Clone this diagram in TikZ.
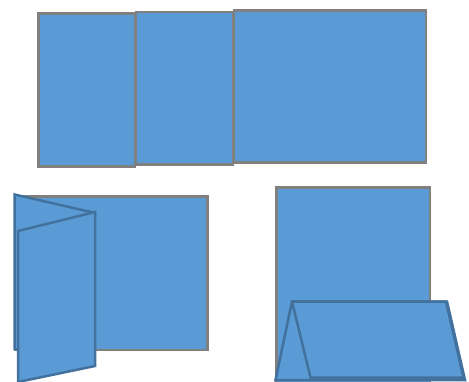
\documentclass[tikz,border=0pt]{standalone}
\begin{document}
\begin{tikzpicture}[x=1pt,y=-1pt,
  sheet/.style={fill=sheetblue,draw=sheetgray,line width=2.5pt},
  fold/.style={fill=sheetblue,draw=folddark,line width=2.5pt,line join=miter}]
\definecolor{sheetblue}{HTML}{5B9BD5}
\definecolor{sheetgray}{HTML}{808080}
\definecolor{folddark}{HTML}{41719C}
\useasboundingbox (0,0) rectangle (469,381);
% top row: three panels
\draw[sheet] (38.5,13.5) rectangle (135,166.5);
\draw[sheet] (136,12) rectangle (233,164.5);
\draw[sheet] (234,10.5) rectangle (426,162.5);
% bottom left: gate fold
\draw[sheet] (15,196.5) rectangle (207.5,350);
\draw[fold] (14.5,194.5) -- (93,212.5) -- (93,365) -- (14.5,349) -- cycle;
\draw[fold] (18,231) -- (95,212) -- (95,366) -- (18,382) -- cycle;
% bottom right: tent fold
\draw[sheet] (276.5,187.5) rectangle (430,395);
\draw[fold] (292,301.5) -- (447,301.5) -- (465,380) -- (275.5,380) -- cycle;
\draw[fold] (292,301.5) -- (446,301.5) -- (463.5,377.5) -- (310.5,377.5) -- cycle;
\end{tikzpicture}
\end{document}
